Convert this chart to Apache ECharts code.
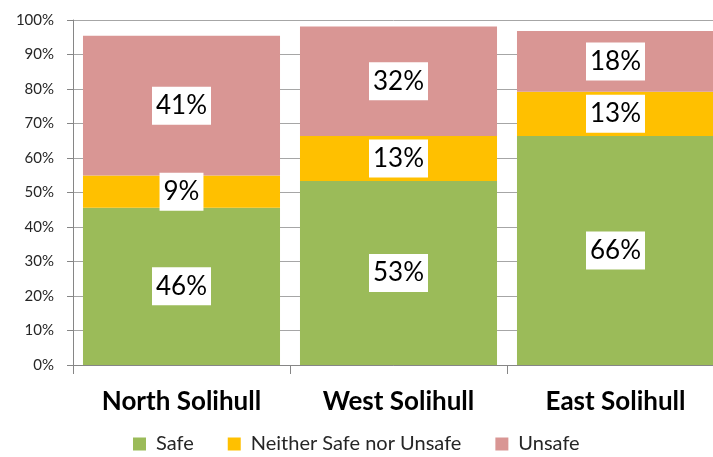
<!DOCTYPE html>
<html>
<head>
<meta charset="utf-8">
<script src="https://cdn.jsdelivr.net/npm/echarts@6/dist/echarts.min.js"></script>
<style>
  html, body { margin: 0; padding: 0; background: #fff; }
  #main { width: 713px; height: 457px; }
</style>
</head>
<body>
<div id="main"></div>
<script>
// 区域
var areas = ['North Solihull', 'West Solihull', 'East Solihull']
// 各类占比 (%)
var safe = [45.6, 53.3, 66.4]
var neither = [9.3, 13.1, 12.8]
var unsafe = [40.5, 31.7, 17.6]

var myChart = echarts.init(document.getElementById('main'))
var option

var segLabel = {
  show: true,
  position: 'inside',
  color: '#000',
  fontFamily: 'Lato',
  fontSize: 26,
  lineHeight: 26,
  backgroundColor: '#fff',
  padding: [6, 4],
  formatter: function(p) {
    return Math.round(p.value) + '%'
  }
}

option = {
  backgroundColor: '#fff',
  animation: false,
  textStyle: { fontFamily: 'Lato' },
  legend: {
    left: 128,
    top: 429,
    itemWidth: 13,
    itemHeight: 13,
    itemGap: 34,
    icon: 'rect',
    textStyle: {
      color: '#262626',
      fontSize: 20,
      fontFamily: 'Lato',
      padding: [0, 0, 0, 5]
    },
    data: ['Safe', 'Neither Safe nor Unsafe', 'Unsafe']
  },
  grid: {
    left: 73,
    right: -11, // 右侧被裁掉
    top: 20,
    bottom: 92,
    containLabel: false,
    outerBoundsMode: 'none'
  },
  xAxis: {
    type: 'category',
    data: areas,
    axisLine: { lineStyle: { color: '#868686', width: 1 } },
    axisTick: { show: true, length: 9, lineStyle: { color: '#868686' } },
    axisLabel: {
      margin: 24,
      color: '#000',
      fontSize: 26,
      fontWeight: 'bold',
      fontFamily: 'Lato'
    }
  },
  yAxis: {
    type: 'value',
    min: 0,
    max: 100,
    interval: 10,
    axisLine: { show: true, lineStyle: { color: '#868686' } },
    axisTick: { show: true, length: 6, lineStyle: { color: '#868686' } },
    splitLine: { lineStyle: { color: '#a6a6a6' } },
    axisLabel: {
      margin: 19,
      color: '#262626',
      fontSize: 15,
      fontFamily: 'Lato',
      formatter: '{value}%'
    }
  },
  series: [
    {
      name: 'Safe',
      type: 'bar',
      stack: 'all',
      barCategoryGap: '9.2%',
      itemStyle: { color: '#9BBB59' },
      label: segLabel,
      data: safe
    },
    {
      name: 'Neither Safe nor Unsafe',
      type: 'bar',
      stack: 'all',
      itemStyle: { color: '#FFC000' },
      label: segLabel,
      data: neither
    },
    {
      name: 'Unsafe',
      type: 'bar',
      stack: 'all',
      itemStyle: { color: '#D99694' },
      label: segLabel,
      data: unsafe
    }
  ]
}

option && myChart.setOption(option)
</script>
</body>
</html>
